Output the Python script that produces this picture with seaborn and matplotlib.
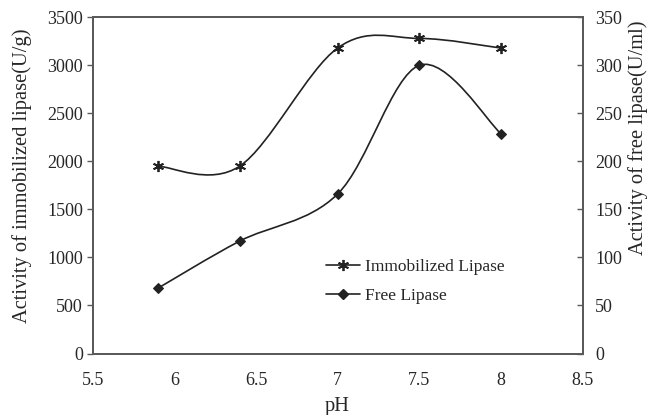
import numpy as np
import matplotlib
matplotlib.use("Agg")
import matplotlib.pyplot as plt
from matplotlib.path import Path
from matplotlib.patches import PathPatch
from matplotlib.lines import Line2D
import seaborn as sns

# ---- data ----
ph = [5.9, 6.4, 7.0, 7.5, 8.0]
immobilized = [1950, 1950, 3180, 3280, 3180]   # U/g, left axis
free = [68, 117, 166, 300, 229]                # U/ml, right axis
x_ticks = [5.5, 6, 6.5, 7, 7.5, 8, 8.5]
x_tick_labels = ["5.5", "6", "6.5", "7", "7.5", "8", "8.5"]
left_ticks = [0, 500, 1000, 1500, 2000, 2500, 3000, 3500]
right_ticks = [0, 50, 100, 150, 200, 250, 300, 350]
series_names = ["Immobilized Lipase", "Free Lipase"]
x_label = "pH"
left_label = "Activity of immobilized lipase(U/g)"
right_label = "Activity of free lipase(U/ml)"

sns.set_style("white")
plt.rcParams['font.family'] = ['Liberation Serif', 'DejaVu Serif']
plt.rcParams['mathtext.fontset'] = 'stix'

FS_TICK = 13
FS_LAB = 14.8
FS_LEG = 12.5
LINE_C = "#222222"
SPINE_C = "#5a5a5a"


def smooth_path(xs, ys):
    """Excel-like smoothed line as cubic Bezier segments built from the data points."""
    pts = np.column_stack([xs, ys]).astype(float)
    n = len(pts)
    verts = [pts[0]]
    codes = [Path.MOVETO]
    for i in range(n - 1):
        p_prev = pts[i - 1] if i > 0 else pts[i]
        p0 = pts[i]
        p1 = pts[i + 1]
        p_next = pts[i + 2] if i + 2 < n else pts[i + 1]
        c1 = p0 + (p1 - p_prev) / 6.0
        c2 = p1 - (p_next - p0) / 6.0
        verts += [c1, c2, p1]
        codes += [Path.CURVE4] * 3
    return Path(verts, codes)


W, H = 653, 415
L, R, T, B = 92.7, 582.5, 17.3, 353.5
fig = plt.figure(figsize=(W / 100, H / 100), dpi=100)
ax = fig.add_axes([L / W, 1 - B / H, (R - L) / W, (B - T) / H])
ax2 = ax.twinx()

# curves
ax.add_patch(PathPatch(smooth_path(ph, immobilized), facecolor="none",
                       edgecolor=LINE_C, lw=1.2, zorder=3))
ax2.add_patch(PathPatch(smooth_path(ph, free), facecolor="none",
                        edgecolor=LINE_C, lw=1.2, zorder=3))

# markers
imm_marker = (6, 2, 0)
sns.lineplot(x=ph, y=immobilized, ax=ax, linestyle="", marker=imm_marker,
             markersize=8, markeredgewidth=1.3, color=LINE_C, markeredgecolor=LINE_C,
             zorder=4, legend=False)
sns.lineplot(x=ph, y=free, ax=ax2, linestyle="", marker="D",
             markersize=5, color=LINE_C, markeredgecolor=LINE_C, zorder=4, legend=False)

ax.set_xlim(5.5, 8.5)
ax.set_ylim(0, 3500)
ax2.set_ylim(0, 350)
ax.set_xticks(x_ticks)
ax.set_xticklabels(x_tick_labels, fontsize=FS_TICK)
ax.set_yticks(left_ticks)
ax.set_yticklabels([str(v) for v in left_ticks], fontsize=FS_TICK)
ax2.set_yticks(right_ticks)
ax2.set_yticklabels([str(v) for v in right_ticks], fontsize=FS_TICK)

ax.tick_params(axis="x", direction="in", length=4, width=1, color=SPINE_C, pad=13)
ax.tick_params(axis="y", direction="out", length=4, width=1, color=SPINE_C, pad=3, left=True)
ax2.tick_params(axis="y", direction="in", length=4, width=1, color=SPINE_C, pad=9, right=True)

for a in (ax, ax2):
    for s in a.spines.values():
        s.set_color(SPINE_C)
        s.set_linewidth(1.4)
        s.set_visible(True)

ax.set_xlabel(x_label, fontsize=FS_LAB)
ax.set_ylabel(left_label, fontsize=FS_LAB)
ax2.set_ylabel(right_label, fontsize=FS_LAB)
ax.xaxis.set_label_coords(((L + R) / 2 - L) / (R - L), (B - 406) / (B - T))
ax.yaxis.set_label_coords((22 - L) / (R - L), (B - 176) / (B - T))
ax2.yaxis.set_label_coords((638 - L) / (R - L), (B - 138) / (B - T))
ax.xaxis.label.set_va("center")
ax.yaxis.label.set_va("center")
ax2.yaxis.label.set_va("center")

handles = [
    Line2D([], [], color=LINE_C, lw=1.2, marker=imm_marker, markersize=8, markeredgewidth=1.3),
    Line2D([], [], color=LINE_C, lw=1.2, marker="D", markersize=5),
]
fig.legend(handles, series_names, loc="upper left",
           bbox_to_anchor=(326 / W, 1 - 259 / H), frameon=False,
           fontsize=FS_LEG, handlelength=1.95, handletextpad=0.3,
           borderpad=0, borderaxespad=0, labelspacing=0.74)

fig.savefig("out.png", dpi=100)
